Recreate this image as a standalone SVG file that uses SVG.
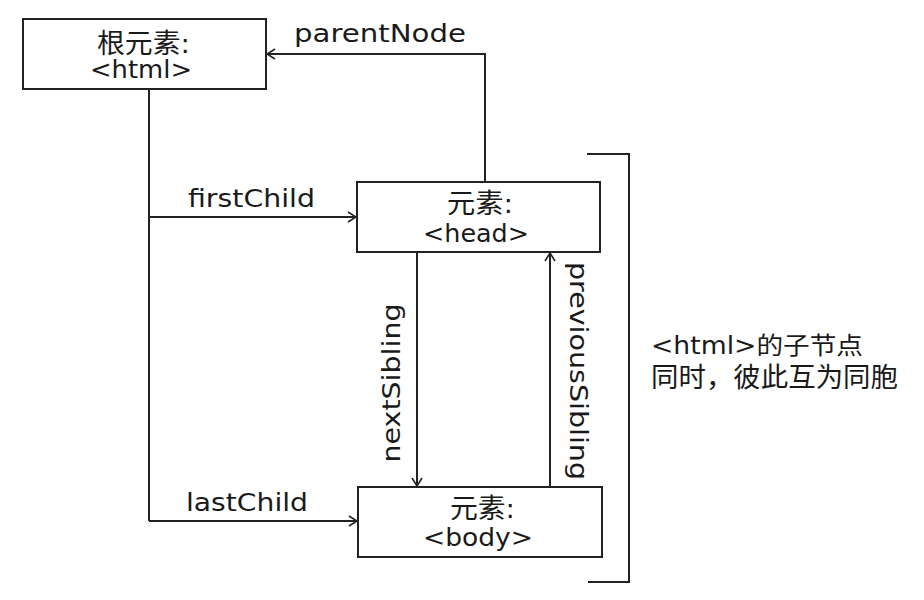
<svg xmlns="http://www.w3.org/2000/svg" width="924" height="600" viewBox="0 0 924 600">
<defs>
<style>
.box{fill:#fff;stroke:#222;stroke-width:2}
.ln{fill:none;stroke:#222;stroke-width:2}
.t{font-family:"DejaVu Sans","Noto Sans CJK SC",sans-serif;font-size:24px;fill:#1a1a1a}
.k{font-size:27px}
.c{text-anchor:middle}
</style>
<marker id="ar" viewBox="0 0 12 12" refX="11" refY="6" markerWidth="12" markerHeight="12" markerUnits="userSpaceOnUse" orient="auto">
<path d="M3,1 L11,6 L3,11" fill="none" stroke="#222" stroke-width="1.6"/>
</marker>
</defs>
<rect width="924" height="600" fill="#fff"/>
<g id="connectors">
<polyline class="ln" points="485,182 485,54 267,54" marker-end="url(#ar)"/>
<line class="ln" x1="149" y1="89" x2="149" y2="521"/>
<line class="ln" x1="149" y1="217" x2="356" y2="217" marker-end="url(#ar)"/>
<line class="ln" x1="149" y1="521" x2="357" y2="521" marker-end="url(#ar)"/>
<line class="ln" x1="417" y1="252" x2="417" y2="486" marker-end="url(#ar)"/>
<line class="ln" x1="550" y1="487" x2="550" y2="253" marker-end="url(#ar)"/>
<text class="t" x="294" y="42" textLength="172" lengthAdjust="spacingAndGlyphs">parentNode</text>
<text class="t" x="188" y="207" textLength="127" lengthAdjust="spacingAndGlyphs">firstChild</text>
<text class="t" x="186" y="511" textLength="122" lengthAdjust="spacingAndGlyphs">lastChild</text>
<text class="t c" transform="translate(400,383) rotate(-90)" textLength="159" lengthAdjust="spacingAndGlyphs">nextSibling</text>
<text class="t c" transform="translate(570,371) rotate(90)" textLength="218" lengthAdjust="spacingAndGlyphs">previousSibling</text>
</g>
<g id="node-html">
<rect class="box" x="23" y="19" width="243" height="70"/>
<text class="t k" x="97" y="53" textLength="93" lengthAdjust="spacingAndGlyphs">根元素:</text>
<text class="t c" x="141" y="78" textLength="102" lengthAdjust="spacingAndGlyphs">&lt;html&gt;</text>
</g>
<g id="node-head">
<rect class="box" x="357" y="182" width="243" height="70"/>
<text class="t k" x="447" y="213" textLength="66" lengthAdjust="spacingAndGlyphs">元素:</text>
<text class="t c" x="476" y="242" textLength="106" lengthAdjust="spacingAndGlyphs">&lt;head&gt;</text>
</g>
<g id="node-body">
<rect class="box" x="358" y="487" width="244" height="70"/>
<text class="t k" x="450" y="518" textLength="65" lengthAdjust="spacingAndGlyphs">元素:</text>
<text class="t c" x="478" y="546" textLength="110" lengthAdjust="spacingAndGlyphs">&lt;body&gt;</text>
</g>
<g id="bracket">
<polyline class="ln" points="587,154 629,154 629,582 588,582"/>
<text class="t" x="651" y="354" textLength="212" lengthAdjust="spacingAndGlyphs">&lt;html&gt;的子节点</text>
<text class="t k" x="651" y="387" textLength="247" lengthAdjust="spacingAndGlyphs">同时，彼此互为同胞</text>
</g>
</svg>
